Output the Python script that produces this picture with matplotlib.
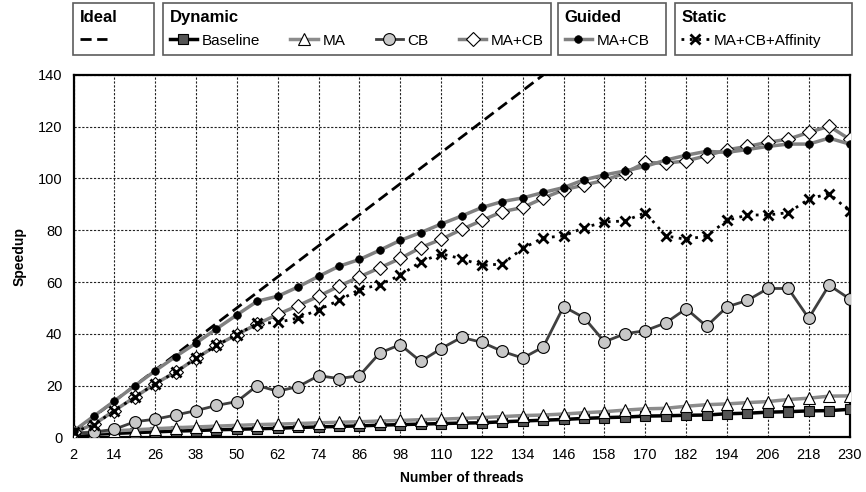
import matplotlib
matplotlib.use("Agg")
import matplotlib.pyplot as plt
from matplotlib.lines import Line2D

# ====== DATA ======
threads = [2, 8, 14, 20, 26, 32, 38, 44, 50, 56, 62, 68, 74, 80, 86, 92, 98, 104, 110, 116,
           122, 128, 134, 140, 146, 152, 158, 164, 170, 176, 182, 188, 194, 200, 206, 212, 218, 224, 230]
ideal = threads  # ideal speedup = number of threads

dyn_baseline = [1.0, 1.2, 1.5, 1.8, 2.1, 2.4, 2.6, 2.9, 3.1, 3.3, 3.5, 3.8, 4.0, 4.2, 4.4, 4.7, 4.9, 5.1, 5.3, 5.5,
                5.6, 6.0, 6.3, 6.6, 6.9, 7.3, 7.6, 7.8, 8.2, 8.3, 8.5, 8.6, 9.1, 9.3, 9.7, 9.9, 10.2, 10.3, 10.8]
dyn_ma = [1.5, 2.0, 2.5, 2.9, 3.3, 3.7, 4.0, 4.3, 4.6, 4.9, 5.1, 5.3, 5.6, 5.8, 6.0, 6.3, 6.5, 6.8, 7.0, 7.3,
          7.6, 8.0, 8.4, 8.6, 9.0, 9.5, 9.9, 10.5, 11.0, 11.2, 12.0, 12.6, 12.9, 13.4, 13.8, 14.6, 15.1, 15.9, 16.0]
dyn_cb = [1.5, 2.0, 3.1, 6.0, 7.0, 8.6, 10.3, 12.3, 13.8, 20.0, 17.8, 19.6, 23.8, 22.7, 23.8, 32.6, 35.8, 29.3, 34.3, 38.6,
          36.7, 33.2, 30.6, 34.9, 50.5, 46.2, 36.9, 40.0, 41.2, 44.2, 49.7, 42.9, 50.4, 52.9, 57.5, 57.5, 46.0, 58.8, 53.5]
dyn_macb = [2.0, 5.0, 10.3, 15.5, 20.7, 25.2, 30.5, 35.5, 39.7, 43.8, 47.5, 50.9, 54.5, 58.4, 62.0, 65.5, 69.1, 73.3, 76.5, 80.3,
            83.8, 87.2, 88.8, 92.4, 95.6, 97.5, 99.3, 102.1, 106.2, 105.9, 106.8, 108.8, 111.1, 112.4, 114.0, 115.2, 117.8, 120.2, 115.2]
guided_macb = [2.4, 8.2, 14.0, 19.9, 25.7, 31.2, 36.4, 41.9, 47.3, 52.6, 54.5, 58.1, 62.2, 66.1, 68.7, 72.3, 76.1, 79.1, 82.4, 85.5,
               88.8, 91.1, 92.5, 94.6, 96.5, 99.5, 101.4, 102.9, 104.7, 107.1, 109.0, 110.5, 110.1, 111.2, 112.4, 113.3, 113.3, 115.6, 113.3]
static_aff = [2.0, 4.8, 10.3, 15.5, 20.7, 25.2, 30.5, 35.5, 39.7, 44.0, 44.4, 46.1, 49.3, 52.9, 57.1, 59.0, 62.6, 67.8, 70.9, 69.0,
              66.4, 67.0, 73.0, 77.1, 77.8, 81.0, 83.2, 83.6, 86.8, 77.8, 76.5, 77.8, 83.8, 85.9, 85.9, 86.8, 92.0, 94.2, 87.4]

x_ticks = list(range(2, 231, 12))
y_ticks = [0, 20, 40, 60, 80, 100, 120, 140]
# ==================

plt.rcParams['font.family'] = ['Liberation Sans', 'DejaVu Sans']

fig = plt.figure(figsize=(8.66, 4.92), dpi=100)
ax = fig.add_axes([0.0849, 0.1112, 0.8961, 0.7364])

st_ideal = dict(color='black', lw=2, linestyle=(0, (4, 2)))
st_base = dict(color='black', lw=2.5, marker='s', ms=7.5, mfc='#555555', mec='black', mew=0.8)
st_ma = dict(color='#8c8c8c', lw=2.5, marker='^', ms=8, mfc='white', mec='black', mew=0.8)
st_cb = dict(color='#404040', lw=2, marker='o', ms=8.5, mfc='#c8c8c8', mec='black', mew=0.8)
st_dmacb = dict(color='#808080', lw=2.5, marker='D', ms=7.5, mfc='white', mec='black', mew=0.8)
st_guided = dict(color='#808080', lw=2.5, marker='o', ms=5.5, mfc='black', mec='black', mew=0.5)
st_static = dict(color='black', lw=2, linestyle=(0, (1, 2)), marker='x', ms=7, mec='black', mew=2)

ax.plot(threads, ideal, **st_ideal, zorder=3)
ax.plot(threads, dyn_baseline, **st_base, zorder=4)
ax.plot(threads, dyn_ma, **st_ma, zorder=4)
ax.plot(threads, dyn_cb, **st_cb, zorder=4)
ax.plot(threads, dyn_macb, **st_dmacb, zorder=4)
ax.plot(threads, guided_macb, **st_guided, zorder=5)
ax.plot(threads, static_aff, **st_static, zorder=6)

ax.set_xlim(2, 230)
ax.set_ylim(0, 140)
ax.set_xticks(x_ticks)
ax.set_yticks(y_ticks)
ax.tick_params(length=0, labelsize=10.5, pad=8)
ax.grid(True, color='#222222', lw=0.8, linestyle=(0, (2, 1.5)))
for s in ax.spines.values():
    s.set_linewidth(1.6)
    s.set_color('black')

ax.set_ylabel('Speedup', fontsize=10, fontweight='bold', labelpad=8)
ax.set_xlabel('Number of threads', fontsize=10, fontweight='bold', labelpad=6)

# ---- grouped legends on top ----
def group_legend(handles, labels, title, x0, x1, ncol=1):
    leg = fig.legend(handles, labels, title=title, loc='upper left',
                     bbox_to_anchor=(x0, 0.994, x1 - x0, 0.0), mode='expand',
                     ncol=ncol, alignment='left', frameon=True, fancybox=False,
                     handlelength=1.8, handleheight=1.1, handletextpad=0.3, columnspacing=0.8,
                     borderpad=0.45, borderaxespad=0.0,
                     prop={'size': 11},
                     title_fontproperties={'weight': 'bold', 'size': 12})
    leg.get_frame().set_edgecolor('#333333')
    leg.get_frame().set_linewidth(1.2)
    return leg

h_ideal = Line2D([], [], **st_ideal)
h_base = Line2D([], [], **st_base)
h_ma = Line2D([], [], **st_ma)
h_cb = Line2D([], [], **st_cb)
h_dmacb = Line2D([], [], **st_dmacb)
h_guided = Line2D([], [], **st_guided)
h_static = Line2D([], [], **st_static)

group_legend([h_ideal], [' '], 'Ideal', 0.0843, 0.1778)
group_legend([h_base, h_ma, h_cb, h_dmacb], ['Baseline', 'MA', 'CB', 'MA+CB'], 'Dynamic', 0.188, 0.636, ncol=4)
group_legend([h_guided], ['MA+CB'], 'Guided', 0.644, 0.769)
group_legend([h_static], ['MA+CB+Affinity'], 'Static', 0.779, 0.984)

fig.savefig('out.png', dpi=100)
